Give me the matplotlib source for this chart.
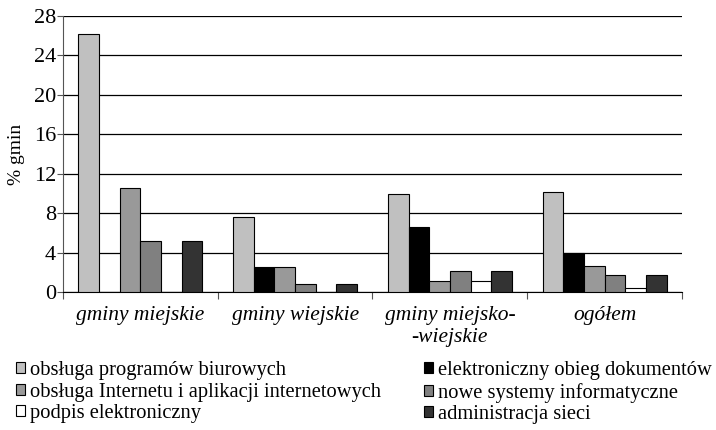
import numpy as np
import matplotlib.pyplot as plt

plt.rcParams['font.family'] = ['Liberation Serif', 'DejaVu Serif']

groups = ['gminy miejskie', 'gminy wiejskie', 'gminy miejsko-\n-wiejskie', 'ogółem']
series = ['obsługa programów biurowych',
          'elektroniczny obieg dokumentów',
          'obsługa Internetu i aplikacji internetowych',
          'nowe systemy informatyczne',
          'podpis elektroniczny',
          'administracja sieci']
values = [
    [26.2, 7.6, 9.9, 10.1],
    [0.0, 2.5, 6.6, 4.0],
    [10.5, 2.5, 1.1, 2.6],
    [5.2, 0.8, 2.1, 1.7],
    [0.0, 0.0, 1.1, 0.45],
    [5.2, 0.8, 2.1, 1.7],
]
colors = ['#c0c0c0', '#000000', '#999999', '#808080', '#ffffff', '#333333']

fig = plt.figure(figsize=(7.16, 4.30), dpi=100)
ax = fig.add_axes([0.088, 0.321, 0.8645, 0.642])

n = len(series)
w = 0.8 / n
x = np.arange(len(groups))
handles = []
for i in range(n):
    b = ax.bar(x - 0.4 + w * (i + 0.5), values[i], width=w, color=colors[i],
               edgecolor='black', linewidth=0.8, zorder=3, label=series[i])
    handles.append(b)

ax.set_ylim(0, 28)
ax.set_yticks(np.arange(0, 29, 4))
ax.set_xlim(-0.5, len(groups) - 0.5)
ax.yaxis.grid(True, color='black', linewidth=0.9, zorder=0)
ax.set_axisbelow(True)

ax.set_xticks(np.arange(-0.5, len(groups), 1.0))
ax.set_xticklabels([])
ax.set_xticks(x, minor=True)
ax.set_xticklabels(groups, minor=True, style='italic', fontsize=15.5,
                   linespacing=1.25)
ax.tick_params(axis='x', which='minor', length=0, pad=10)
ax.tick_params(axis='x', which='major', length=5, direction='out', color='#555555')
ax.tick_params(axis='y', length=4, labelsize=16, color='#555555', pad=1)
ax.set_ylabel('% gmin', fontsize=14, labelpad=6)

for s in ['top', 'right']:
    ax.spines[s].set_visible(False)
ax.spines['left'].set_color('#555555')
ax.spines['bottom'].set_color('black')

# two legend columns placed separately
leg_kw = dict(loc='upper left', frameon=False, fontsize=14.8,
              handlelength=0.45, handleheight=0.45, handletextpad=0.25,
              labelspacing=0.12, borderaxespad=0, borderpad=0)
for cols, x0 in [([0, 2, 4], 0.022), ([1, 3, 5], 0.592)]:
    fig.legend([handles[k] for k in cols], [series[k] for k in cols],
               bbox_to_anchor=(x0, 0.16), **leg_kw)

fig.savefig('out.png', dpi=100)
